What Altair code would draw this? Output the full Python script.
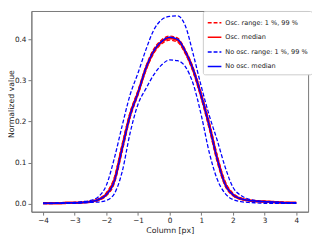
import altair as alt
import pandas as pd

X = [-4.0, -3.75, -3.5, -3.25, -3.0, -2.75, -2.5, -2.25, -2.0, -1.75, -1.5, -1.25,
     -1.0, -0.75, -0.5, -0.25, 0.0, 0.25, 0.5, 0.75, 1.0, 1.25, 1.5, 1.75,
     2.0, 2.25, 2.5, 2.75, 3.0, 3.25, 3.5, 3.75, 4.0]

osc_lower = [0.001, 0.001, 0.001, 0.001, 0.002, 0.003, 0.004, 0.008, 0.019, 0.049, 0.127, 0.209,
             0.265, 0.324, 0.366, 0.389, 0.398, 0.393, 0.364, 0.318, 0.255, 0.182, 0.102, 0.043,
             0.019, 0.010, 0.007, 0.005, 0.004, 0.003, 0.002, 0.002, 0.001]
osc_upper = [0.001, 0.001, 0.002, 0.002, 0.003, 0.004, 0.006, 0.012, 0.027, 0.064, 0.146, 0.223,
             0.276, 0.335, 0.377, 0.399, 0.408, 0.403, 0.374, 0.330, 0.269, 0.199, 0.119, 0.055,
             0.026, 0.014, 0.009, 0.007, 0.006, 0.005, 0.004, 0.003, 0.002]
osc_median = [0.001, 0.001, 0.001, 0.002, 0.002, 0.003, 0.005, 0.010, 0.023, 0.057, 0.137, 0.216,
              0.270, 0.329, 0.371, 0.394, 0.403, 0.398, 0.369, 0.324, 0.262, 0.191, 0.111, 0.049,
              0.022, 0.012, 0.008, 0.006, 0.005, 0.004, 0.003, 0.002, 0.002]
noosc_lower = [0.000, 0.000, 0.001, 0.001, 0.001, 0.002, 0.003, 0.004, 0.008, 0.024, 0.078, 0.172,
               0.242, 0.280, 0.314, 0.338, 0.350, 0.348, 0.333, 0.290, 0.215, 0.125, 0.060, 0.025,
               0.010, 0.005, 0.003, 0.002, 0.001, 0.001, 0.001, 0.001, 0.001]
noosc_upper = [0.001, 0.001, 0.002, 0.002, 0.003, 0.005, 0.008, 0.017, 0.045, 0.110, 0.190, 0.265,
               0.318, 0.375, 0.423, 0.448, 0.456, 0.457, 0.432, 0.362, 0.285, 0.215, 0.155, 0.090,
               0.040, 0.020, 0.011, 0.007, 0.005, 0.004, 0.003, 0.002, 0.002]
noosc_median = [0.001, 0.001, 0.001, 0.002, 0.002, 0.003, 0.005, 0.010, 0.022, 0.055, 0.135, 0.215,
                0.270, 0.330, 0.372, 0.395, 0.405, 0.400, 0.370, 0.325, 0.262, 0.190, 0.110, 0.048,
                0.022, 0.012, 0.008, 0.006, 0.005, 0.004, 0.003, 0.002, 0.002]

SERIES = ["Osc. range: 1 %, 99 %", "Osc. median", "No osc. range: 1 %, 99 %", "No osc. median"]
COLORS = ["#ff0000", "#ff0000", "#0000ff", "#0000ff"]
DASHES = [[4, 2], [1, 0], [4, 2], [1, 0]]
WIDTHS = [1.3, 2.6, 1.3, 1.5]

lines = [
    (SERIES[0], "osc_lo", osc_lower),
    (SERIES[0], "osc_hi", osc_upper),
    (SERIES[1], "osc_med", osc_median),
    (SERIES[2], "no_lo", noosc_lower),
    (SERIES[2], "no_hi", noosc_upper),
    (SERIES[3], "no_med", noosc_median),
]
rows = []
for s, lid, vals in lines:
    for x, v in zip(X, vals):
        rows.append({"x": x, "v": v, "series": s, "line": lid})
df = pd.DataFrame(rows)

font = "DejaVu Sans"

x_enc = alt.X("x:Q", scale=alt.Scale(domain=[-4.37, 4.375], nice=False, zero=False),
              axis=alt.Axis(title="Column [px]", values=[-4, -3, -2, -1, 0, 1, 2, 3, 4],
                            format="d", grid=False, titlePadding=2))
y_enc = alt.Y("v:Q", scale=alt.Scale(domain=[-0.0196, 0.469], nice=False, zero=False),
              axis=alt.Axis(title="Normalized value", values=[0.0, 0.1, 0.2, 0.3, 0.4],
                            format=".1f", grid=False, titleX=-24, titleY=95,
                            titleAngle=-90, titleBaseline="top", titleAlign="center"))
legend = alt.Legend(title=None, orient="none", legendX=176, legendY=0,
                    symbolType="stroke", symbolSize=196, symbolStrokeWidth=1.5,
                    labelFontSize=6.7, labelFont=font, labelColor="#222222",
                    rowPadding=3, padding=4, labelOffset=3,
                    strokeColor="#cccccc", fillColor="white", cornerRadius=2)
color_enc = alt.Color("series:N", scale=alt.Scale(domain=SERIES, range=COLORS), legend=legend)
dash_enc = alt.StrokeDash("series:N", scale=alt.Scale(domain=SERIES, range=DASHES), legend=legend)

layers = []
for s, w in zip(SERIES, WIDTHS):
    layers.append(
        alt.Chart(df).transform_filter(alt.datum.series == s)
        .mark_line(interpolate="monotone", clip=True, strokeWidth=w)
        .encode(x=x_enc, y=y_enc, color=color_enc, strokeDash=dash_enc, detail="line:N")
    )

chart = alt.layer(*layers).properties(
    width=284, height=206,
    autosize=alt.AutoSizeParams(type="none"),
    padding={"left": 24, "top": 0, "right": 4, "bottom": 28},
).configure_view(stroke="#777777", strokeWidth=1).configure_axis(
    labelFont=font, titleFont=font, labelFontSize=7.5, titleFontSize=8,
    labelColor="#222222", titleColor="#222222", titleFontWeight="normal",
    domainColor="#777777", tickColor="#777777", tickSize=3.5, labelPadding=2,
)

chart.save("out.html", embed_options={"renderer": "svg", "actions": False})
